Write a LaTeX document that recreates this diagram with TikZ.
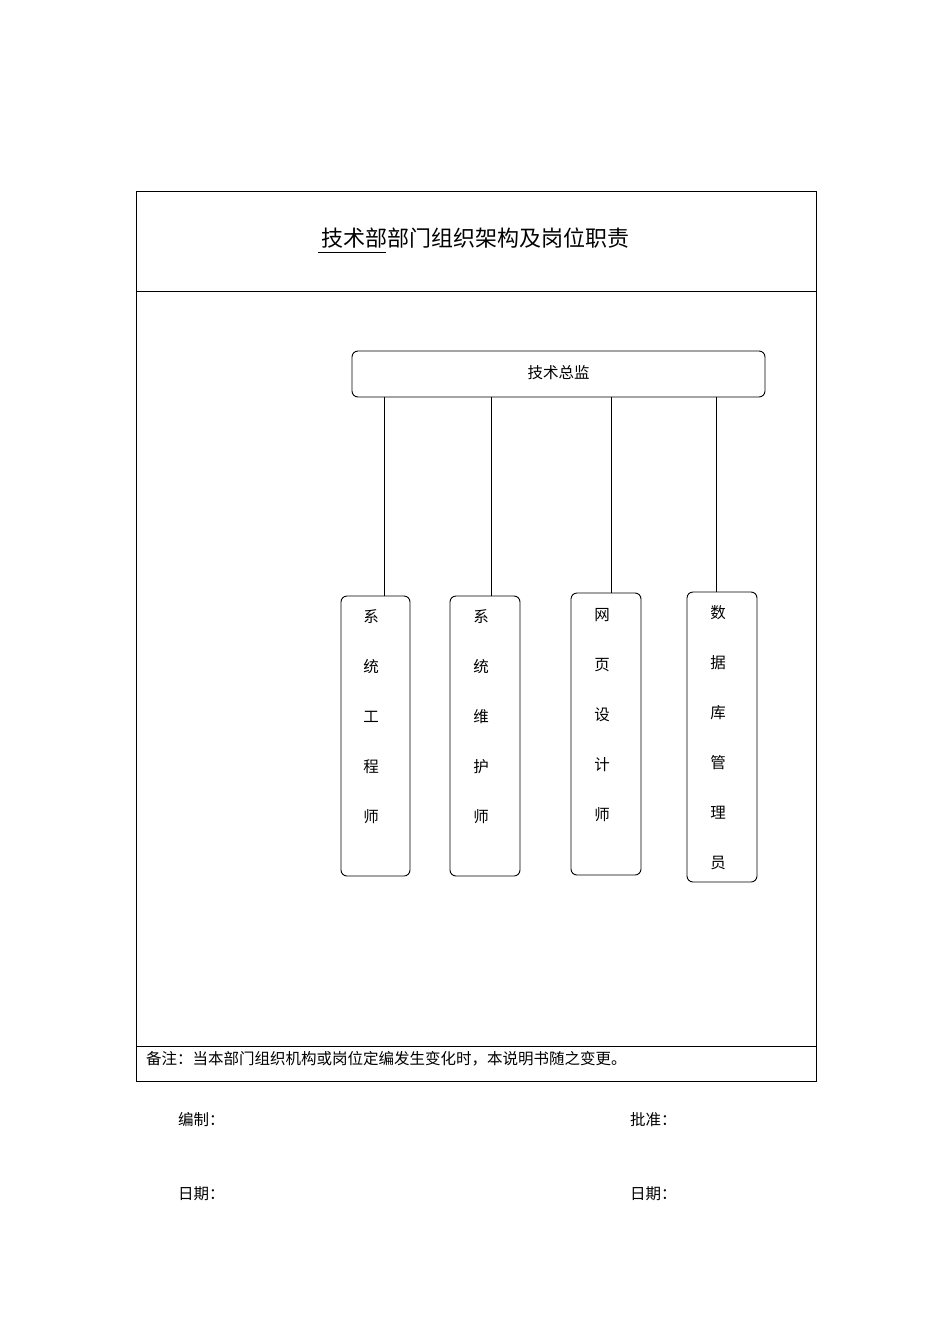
\documentclass[tikz,border=0pt]{standalone}
\usepackage{fontspec}
\newfontfamily\cjk{Noto Sans CJK SC}
\begin{document}
\begin{tikzpicture}[x=1pt,y=-1pt,
  box/.style={draw,rounded corners=6pt,line width=0.9pt},
  lbl/.style={font=\cjk\fontsize{15.5}{15.5}\selectfont,anchor=west,inner sep=0pt},
  ch/.style={font=\cjk\fontsize{15.5}{15.5}\selectfont,inner sep=0pt}]
\useasboundingbox (0,0) rectangle (950,1344);
\draw[line width=0.7pt] (136,191) rectangle (816,1081);
\draw[line width=0.7pt] (136,291) -- (816,291);
\draw[line width=0.7pt] (136,1046) -- (816,1046);
\node[ch,font=\cjk\fontsize{22}{22}\selectfont] (title) at (475,238) {技术部部门组织架构及岗位职责};
\draw[line width=0.6pt] (318,252) -- (386,252);
\draw[box] (352,351) rectangle (765,397);
\node[ch] (top) at (558.5,373) {技术总监};
\draw[box] (341,596) rectangle (410,876);
\draw[box] (450,596) rectangle (520,876);
\draw[box] (571,593) rectangle (641,875);
\draw[box] (687,592) rectangle (757,882);
\foreach \c [count=\i] in {系,统,工,程,师} \node[ch] (a\i) at (371,567+50*\i) {\c};
\foreach \c [count=\i] in {系,统,维,护,师} \node[ch] (b\i) at (481,567+50*\i) {\c};
\foreach \c [count=\i] in {网,页,设,计,师} \node[ch] (c\i) at (602,565+50*\i) {\c};
\foreach \c [count=\i] in {数,据,库,管,理,员} \node[ch] (d\i) at (718,563+50*\i) {\c};
\coordinate (t1) at (384,397); \coordinate (e1) at (384,596);
\coordinate (t2) at (491,397); \coordinate (e2) at (491,596);
\coordinate (t3) at (611,397); \coordinate (e3) at (611,593);
\coordinate (t4) at (716,397); \coordinate (e4) at (716,592);
\foreach \i in {1,...,4} \draw (t\i) -- (e\i);
\node[lbl] (note) at (146,1059) {备注：当本部门组织机构或岗位定编发生变化时，本说明书随之变更。};
\node[lbl] (bz) at (178,1120) {编制：};
\node[lbl] (pz) at (630,1120) {批准：};
\node[lbl] (rq1) at (178,1194) {日期：};
\node[lbl] (rq2) at (630,1194) {日期：};
\end{tikzpicture}
\end{document}
